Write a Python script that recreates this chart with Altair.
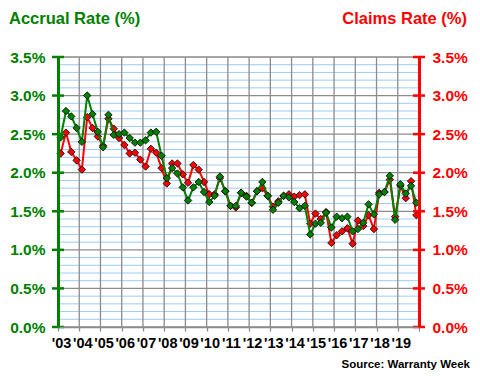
import altair as alt
import pandas as pd

# ---- data (quarterly, 2003 Q1 .. 2019 Q4) ----
year_labels = ["'03", "'04", "'05", "'06", "'07", "'08", "'09", "'10", "'11",
               "'12", "'13", "'14", "'15", "'16", "'17", "'18", "'19"]

accrual = [2.46, 2.80, 2.73, 2.58, 2.40, 3.00, 2.76, 2.53, 2.33, 2.75, 2.49, 2.50,
           2.52, 2.45, 2.39, 2.39, 2.42, 2.52, 2.53, 2.22, 1.93, 2.06, 1.99, 1.81,
           1.64, 1.81, 1.88, 1.75, 1.62, 1.70, 1.95, 1.76, 1.57, 1.57, 1.74, 1.69,
           1.61, 1.76, 1.88, 1.70, 1.52, 1.61, 1.70, 1.68, 1.62, 1.54, 1.57, 1.20,
           1.34, 1.35, 1.48, 1.29, 1.43, 1.41, 1.43, 1.24, 1.27, 1.35, 1.59, 1.46,
           1.72, 1.75, 1.96, 1.39, 1.85, 1.73, 1.83, 1.61]

claims = [2.25, 2.52, 2.27, 2.16, 2.04, 2.72, 2.58, 2.47, 2.35, 2.70, 2.57, 2.45,
          2.36, 2.25, 2.26, 2.17, 2.08, 2.31, 2.26, 2.06, 1.86, 2.12, 2.12, 1.98,
          1.87, 2.10, 2.04, 1.88, 1.72, 1.72, 1.93, 1.76, 1.57, 1.55, 1.74, 1.70,
          1.61, 1.76, 1.80, 1.70, 1.56, 1.63, 1.70, 1.72, 1.69, 1.71, 1.72, 1.34,
          1.47, 1.40, 1.49, 1.09, 1.19, 1.24, 1.28, 1.08, 1.38, 1.31, 1.45, 1.27,
          1.74, 1.75, 1.91, 1.43, 1.83, 1.67, 1.89, 1.45]

y_major = [0.0, 0.5, 1.0, 1.5, 2.0, 2.5, 3.0, 3.5]
y_minor = [round(i / 10, 1) for i in range(1, 35) if i % 5 != 0]

W, H = 361, 270
N = len(accrual)
FONT = "Liberation Sans"
GREEN = "#008000"
RED = "#ff0000"
GRAY = "#8c8c8c"

df = pd.DataFrame({
    "q": [i + 0.5 for i in range(N)],
    "accrual": accrual,
    "claims": claims,
})

xscale = alt.Scale(domain=[0, N], nice=False, zero=False)
yscale = alt.Scale(domain=[0, 3.5], nice=False, zero=True)

year_ticks = list(range(0, N + 1, 4))
label_map = "[" + ",".join("\"%s\"" % s for s in year_labels) + "]"
label_expr = "datum.value >= %d ? '' : %s[floor(datum.value/4)]" % (N, label_map)

x_axis = alt.Axis(
    values=year_ticks, labelExpr=label_expr, title=None, grid=False,
    domainColor=GRAY, domainWidth=1.5,
    ticks=True, tickSize=4, tickColor=GRAY, tickWidth=1.3,
    labelFont=FONT, labelFontSize=14.5, labelFontWeight="bold",
    labelColor="black", labelPadding=5, labelOffset=3,
    labelOverlap=False, labelFlush=False, zindex=1)

# minor horizontal grid (light blue)
minor = alt.Chart(pd.DataFrame({"v": y_minor})).mark_rule(
    color="#9ccbf5", strokeWidth=1
).encode(
    y=alt.Y("v:Q", scale=yscale, axis=None),
    x=alt.value(0), x2=alt.value(W),
)

# vertical grid (gray)
vgrid = alt.Chart(pd.DataFrame({"q": year_ticks})).mark_rule(
    color=GRAY, strokeWidth=1.3
).encode(
    x=alt.X("q:Q", scale=xscale, axis=x_axis),
    y=alt.value(0), y2=alt.value(H),
)

# major horizontal grid (gray)
major = alt.Chart(pd.DataFrame({"v": y_major})).mark_rule(
    color=GRAY, strokeWidth=1.3
).encode(
    y=alt.Y("v:Q", scale=yscale, axis=None),
    x=alt.value(0), x2=alt.value(W),
)

pct_expr = "format(datum.value, '.1f') + '%'"

red = alt.Chart(df).mark_line(
    color=RED, strokeWidth=2,
    point=alt.OverlayMarkDef(shape="diamond", size=55, filled=True,
                             fill=RED, stroke="black", strokeWidth=0.8, opacity=1),
).encode(
    x=alt.X("q:Q", scale=xscale, axis=x_axis),
    y=alt.Y("claims:Q", scale=yscale, axis=alt.Axis(
        orient="right", values=y_major, labelExpr=pct_expr, title=None,
        grid=False, ticks=False, tickSize=0, domainColor=RED, domainWidth=3,
        labelFont=FONT, labelFontSize=15.5, labelFontWeight="bold",
        labelColor=RED, labelPadding=13, zindex=1)),
)

green = alt.Chart(df).mark_line(
    color=GREEN, strokeWidth=2,
    point=alt.OverlayMarkDef(shape="diamond", size=55, filled=True,
                             fill=GREEN, stroke="black", strokeWidth=0.8, opacity=1),
).encode(
    x=alt.X("q:Q", scale=xscale, axis=x_axis),
    y=alt.Y("accrual:Q", scale=yscale, axis=alt.Axis(
        orient="left", values=y_major, labelExpr=pct_expr, title=None,
        grid=False, ticks=False, tickSize=0, domainColor=GREEN, domainWidth=3,
        labelFont=FONT, labelFontSize=15.5, labelFontWeight="bold",
        labelColor=GREEN, labelPadding=13, zindex=1)),
)

# crossing tick marks on both value axes
ticks_left = alt.Chart(pd.DataFrame({"v": y_major})).mark_rule(
    color=GREEN, strokeWidth=2.5
).encode(
    y=alt.Y("v:Q", scale=yscale, axis=None),
    x=alt.value(-6), x2=alt.value(6),
)
ticks_right = alt.Chart(pd.DataFrame({"v": y_major})).mark_rule(
    color=RED, strokeWidth=2.5
).encode(
    y=alt.Y("v:Q", scale=yscale, axis=None),
    x=alt.value(W - 6), x2=alt.value(W + 6),
)

title_left = alt.Chart(pd.DataFrame({"t": ["Accrual Rate (%)"]})).mark_text(
    font=FONT, fontSize=16.5, fontWeight="bold", color=GREEN, align="left", baseline="alphabetic"
).encode(text="t:N", x=alt.value(-49), y=alt.value(-33))

title_right = alt.Chart(pd.DataFrame({"t": ["Claims Rate (%)"]})).mark_text(
    font=FONT, fontSize=16.5, fontWeight="bold", color=RED, align="right", baseline="alphabetic"
).encode(text="t:N", x=alt.value(409), y=alt.value(-33))

source = alt.Chart(pd.DataFrame({"t": ["Source: Warranty Week"]})).mark_text(
    font=FONT, fontSize=11.5, fontWeight="bold", color="black", align="right", baseline="alphabetic"
).encode(text="t:N", x=alt.value(412), y=alt.value(311))

chart = alt.layer(
    minor, vgrid, major, red, green, ticks_left, ticks_right,
    title_left, title_right, source
).resolve_scale(y="independent").properties(
    width=W, height=H,
    autosize=alt.AutoSizeParams(type="none"),
    padding={"left": 50, "top": 49, "right": 53, "bottom": 45},
).configure_view(stroke=None).configure(background="white")

chart.save("out.html", embed_options={"renderer": "svg", "actions": False})
